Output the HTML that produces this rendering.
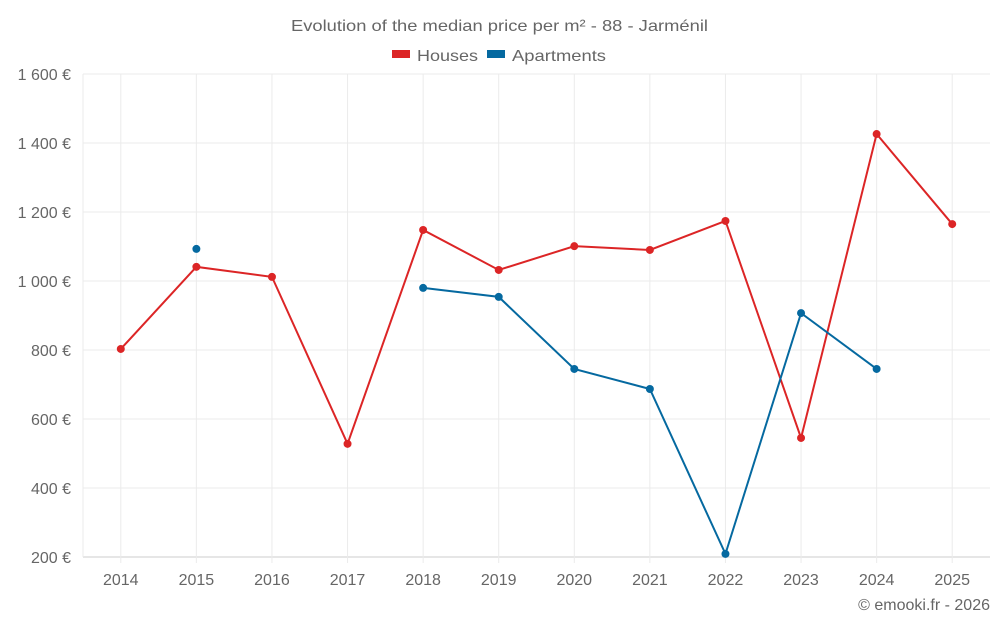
<!DOCTYPE html>
<html><head><meta charset="utf-8"><style>
body{margin:0;background:#fff;font-family:"Liberation Sans",sans-serif;}
svg text{font-family:"Liberation Sans",sans-serif;fill:#666;}
</style></head><body>
<svg id="chart" width="1000" height="625">
<text x="291" y="31" font-size="16" textLength="417" lengthAdjust="spacingAndGlyphs">Evolution of the median price per m² - 88 - Jarménil</text>
<g>
<g><rect x="392" y="50" width="18" height="8" fill="#dc2526"/><text x="417" y="61" font-size="16" textLength="61" lengthAdjust="spacingAndGlyphs">Houses</text></g>
<g><rect x="487" y="50" width="18" height="8" fill="#0569a0"/><text x="512" y="61" font-size="16" textLength="94" lengthAdjust="spacingAndGlyphs">Apartments</text></g>
</g>
<g id="grid"></g><g id="axes"></g><g id="series"></g>
<text x="990" y="610" text-anchor="end" font-size="16">© emooki.fr - 2026</text>
</svg>
<script>
const years=["2014","2015","2016","2017","2018","2019","2020","2021","2022","2023","2024","2025"];
const houses=[803,1041,1012,528,1148,1032,1101,1090,1174,545,1426,1165];
const apartments=[null,1093,null,null,980,954,745,687,209,907,745,null];
const yTicks=[200,400,600,800,1000,1200,1400,1600];
const yTickLabels=["200 €","400 €","600 €","800 €","1 000 €","1 200 €","1 400 €","1 600 €"];
const L=83,R=990,T=74,B=557,ymin=200,ymax=1600;
const step=(R-L)/years.length;
const x=i=>L+step*(i+0.5);
const y=v=>B-(v-ymin)/(ymax-ymin)*(B-T);
const NS="http://www.w3.org/2000/svg";
function mk(tag,attrs,parent){const e=document.createElementNS(NS,tag);for(const k in attrs)e.setAttribute(k,attrs[k]);document.getElementById(parent).appendChild(e);return e;}
yTicks.forEach((t,i)=>{
 const g=mk("line",{x1:L,x2:R,y1:y(t),y2:y(t),stroke:i==0?"#ccc":"#ebebeb"},"grid");
 
 
 const tx=mk("text",{x:L-12,y:y(t)+6,"text-anchor":"end","font-size":"16"},"axes");
 tx.textContent=yTickLabels[i];
 
 
});
const vl=mk("line",{x1:L,x2:L,y1:T,y2:B,stroke:"#ebebeb"},"grid");


years.forEach((yr,i)=>{
 const g=mk("line",{x1:x(i),x2:x(i),y1:T,y2:B+6,stroke:"#ebebeb"},"grid");
 
 
 const tx=mk("text",{x:x(i),y:B+28,"text-anchor":"middle","font-size":"16"},"axes");
 tx.textContent=yr;
 
 
});
function draw(data,color,name){
 let segs=[],cur=[];
 data.forEach((v,i)=>{if(v==null){if(cur.length)segs.push(cur);cur=[];}else cur.push([x(i),y(v)]);});
 if(cur.length)segs.push(cur);
 segs.forEach(s=>{if(s.length>1){const p=mk("polyline",{points:s.map(q=>q.join(",")).join(" "),fill:"none",stroke:color,"stroke-width":2},"series");
 
 }});
 data.forEach((v,i)=>{if(v==null)return;const c=mk("circle",{cx:x(i),cy:y(v),r:4,fill:color},"series");
 
 });
}
draw(houses,"#dc2526","houses");
draw(apartments,"#0569a0","apartments");
</script>
</body></html>
